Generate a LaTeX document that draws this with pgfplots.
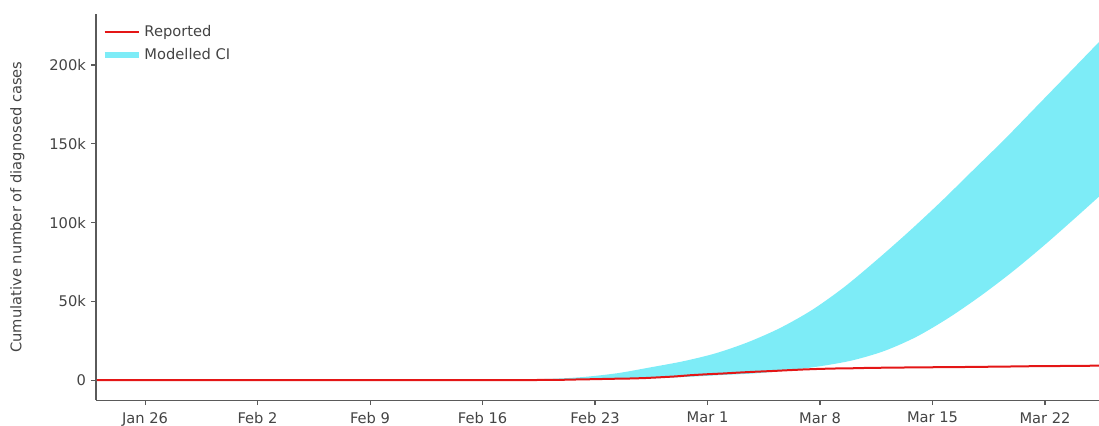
\documentclass[border=0pt]{standalone}
\usepackage{pgfplots}
\pgfplotsset{compat=1.18}
\usepgfplotslibrary{fillbetween}
\usepackage{fontspec}
\setmainfont{DejaVu Sans}
\usetikzlibrary{calc}
\definecolor{bandcyan}{RGB}{125,236,247}
\definecolor{repred}{RGB}{228,22,22}
\definecolor{txtgray}{RGB}{68,68,68}
\definecolor{axgray}{RGB}{90,90,90}
\begin{document}
\fontsize{11}{13}\selectfont
\begin{tikzpicture}
\begin{axis}[
  scale only axis,
  width=752pt, height=289.5pt,
  xmin=-3.05, xmax=59.36,
  ymin=-12698, ymax=232381,
  axis x line=bottom, axis y line=left,
  axis line style={-, axgray, line width=0.8pt},
  tick align=outside,
  major tick length=3.75pt,
  every tick/.style={axgray, line width=0.8pt},
  xtick={0,7,14,21,28,35,42,49,56},
  xticklabels={Jan 26,Feb 2,Feb 9,Feb 16,Feb 23,Mar 1,Mar 8,Mar 15,Mar 22},
  ytick={0,50000,100000,150000,200000},
  yticklabels={0,50k,100k,150k,200k},
  scaled y ticks=false,
  /pgf/number format/assume math mode=true,
  tick label style={text=txtgray},
  xticklabel style={yshift=-1.5pt},
  ylabel={Cumulative number of diagnosed cases},
  ylabel style={at={([xshift=-59pt]axis description cs:0,0.5)}, anchor=center, text=txtgray},
  legend style={at={(axis description cs:0,1)}, anchor=north west, draw=none, fill=none,
    xshift=4pt, yshift=-6.5pt, inner sep=0pt, row sep=3pt, text=txtgray,
    nodes={inner sep=2pt}},
  legend cell align=left,
  legend image code/.code={\draw[#1] (0cm,0cm) -- (0.9cm,0cm);},
  clip=true,
]
% Modelled CI band: upper and lower edges
\addplot[name path=up, draw=none, smooth, forget plot] coordinates {
(-3.05,0) (20,0) (22.1,300) (25.2,800) (27.3,2000) (29.4,4400) (31.4,8000)
(33.5,12000) (35.5,17000) (37.5,24000) (39.5,33000) (41.5,44500) (43.5,59000)
(45.5,76000) (47.5,94000) (49.5,113000) (51.5,133000) (53.5,153000)
(55.5,174000) (57.5,195000) (59.36,214600)
};
\addplot[name path=lo, draw=none, smooth, forget plot] coordinates {
(-3.05,0) (20,0) (25,50) (28,400) (31,1000) (34,2200) (36,3300) (38,4300)
(40,6200) (42,8800) (44,12500) (46,18500) (48,27500) (50,39500) (52,53500)
(54,69000) (56,86000) (58,104000) (59.36,116500)
};
\addplot[bandcyan, draw=none, forget plot] fill between[of=up and lo];
% Reported
\addplot[repred, line width=1.5pt, line join=round] coordinates {
(-3,1) (-2,2) (0,3) (1,4) (5,11) (7,15) (10,19) (14,27) (21,29) (23,31) (24,51)
(25,104) (26,204) (27,433) (28,602) (29,833) (30,977) (31,1261) (32,1766)
(33,2337) (34,3150) (35,3736) (36,4212) (37,4812) (38,5328) (39,5766)
(40,6284) (41,6767) (42,7134) (43,7382) (44,7513) (45,7755) (46,7869)
(47,7979) (48,8086) (49,8162) (50,8236) (51,8320) (52,8413) (53,8565)
(54,8652) (55,8799) (56,8897) (57,8961) (58,9037) (59,9137) (59.36,9170)
};
\addlegendentry{Reported}
\addlegendimage{bandcyan, line width=4.5pt}
\addlegendentry{Modelled CI}
\end{axis}
\pgfresetboundingbox
\useasboundingbox ($(current axis.south west)+(-72pt,-18.75pt)$) rectangle ($(current axis.north east)+(0pt,10.5pt)$);
\end{tikzpicture}
\end{document}
